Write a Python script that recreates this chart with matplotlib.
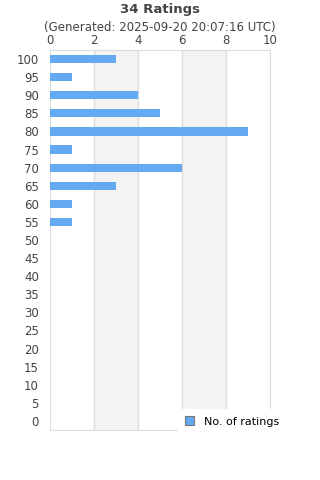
"""Horizontal bar chart of rating counts."""

import matplotlib
matplotlib.use("Agg")
import matplotlib.pyplot as plt
from matplotlib.patches import Patch

TITLE = "34 Ratings"
SUBTITLE = "(Generated: 2025-09-20 20:07:16 UTC)"
SERIES_NAME = "No. of ratings"

ratings = [100, 95, 90, 85, 80, 75, 70, 65, 60, 55, 50, 45, 40, 35, 30, 25, 20, 15, 10, 5, 0]
counts = [3, 1, 4, 5, 9, 1, 6, 3, 1, 1, 0, 0, 0, 0, 0, 0, 0, 0, 0, 0, 0]
x_ticks = [0, 2, 4, 6, 8, 10]

BAR_COLOR = "#63aaf2"
TEXT_COLOR = "#444444"
GRID_COLOR = "#dddddd"
BAND_COLOR = "#f3f3f3"


def main():
    fig = plt.figure(figsize=(3.2, 4.8), dpi=100)
    ax = fig.add_axes([50 / 320, 50 / 480, 220 / 320, 380 / 480])

    pos = list(range(len(ratings)))
    ax.barh(pos, counts, height=0.45, color=BAR_COLOR, zorder=3)

    ax.set_ylim(len(ratings) - 0.5, -0.5)
    ax.set_yticks(pos)
    ax.set_yticklabels([str(r) for r in ratings])

    ax.set_xlim(x_ticks[0], x_ticks[-1])
    ax.set_xticks(x_ticks)
    ax.xaxis.tick_top()

    # alternating bands
    for i in range(1, len(x_ticks) - 1, 2):
        ax.axvspan(x_ticks[i], x_ticks[i + 1], color=BAND_COLOR, zorder=0, lw=0)
    for x in x_ticks[1:]:
        ax.axvline(x, color=GRID_COLOR, lw=1, zorder=1)

    for s in ax.spines.values():
        s.set_color(GRID_COLOR)
    ax.tick_params(length=0, labelsize=8.5, labelcolor=TEXT_COLOR)
    ax.tick_params(axis="y", pad=8)
    ax.tick_params(axis="x", pad=2.5)

    fig.text(0.5, 1 - 10 / 480, TITLE, ha="center", va="center",
             fontsize=9.5, fontweight="bold", color=TEXT_COLOR)
    fig.text(0.5, 1 - 28 / 480, SUBTITLE, ha="center", va="center",
             fontsize=8.5, color=TEXT_COLOR)

    handle = Patch(facecolor=BAR_COLOR, edgecolor="#777777", lw=0.8)
    leg = ax.legend([handle], [SERIES_NAME], loc="lower left",
                    bbox_to_anchor=(0.58, -0.01), frameon=True, fontsize=8,
                    handlelength=0.8, handleheight=0.8, handletextpad=0.9,
                    borderpad=0.65, borderaxespad=0)
    leg.get_frame().set_facecolor("white")
    leg.get_frame().set_edgecolor("white")
    leg.get_frame().set_alpha(1)
    leg.get_frame().set_boxstyle("square", pad=0)
    leg.set_zorder(10)
    leg.set_clip_on(False)

    fig.savefig("out.png", dpi=100)
    plt.close(fig)


if __name__ == "__main__":
    main()
